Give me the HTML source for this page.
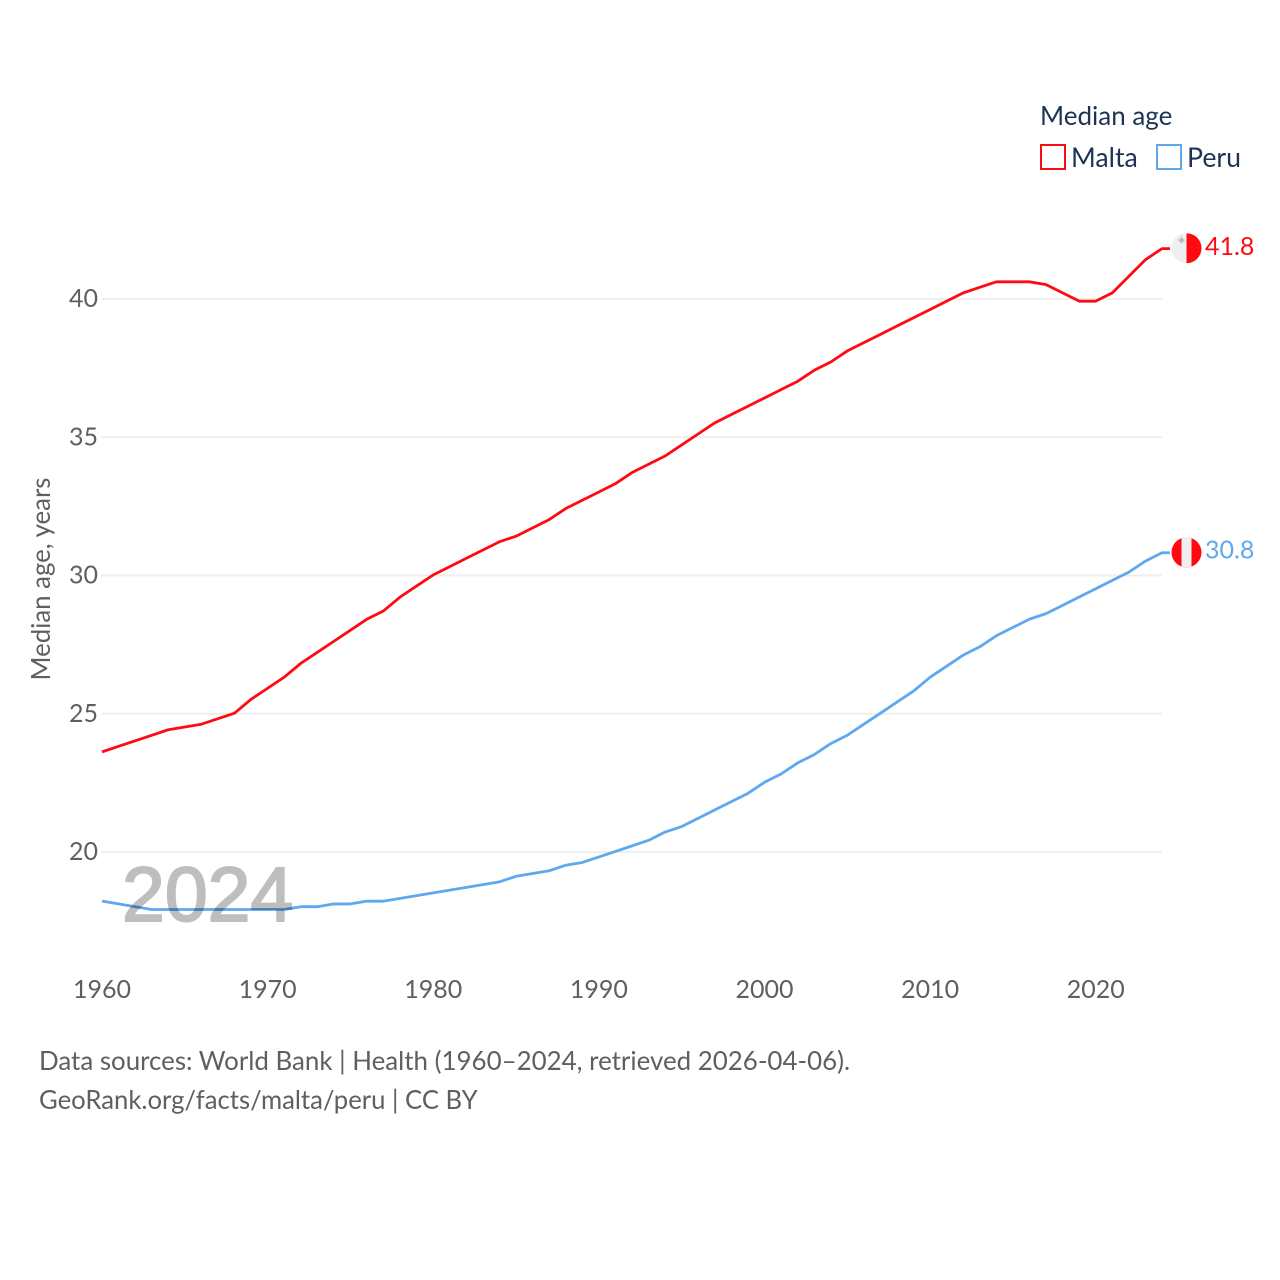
<!DOCTYPE html>
<html lang="en">
<head>
<meta charset="utf-8">
<title>Median age: Malta and Peru</title>
<style>
html,body{margin:0;padding:0;background:#fff;width:1280px;height:1280px;overflow:hidden}
svg{display:block}
text{font-family:"Lato","Carlito","Liberation Sans",sans-serif}
</style>
</head>
<body>
<svg id="chart" xmlns="http://www.w3.org/2000/svg" width="1280" height="1280" viewBox="0 0 1280 1280">
  <defs>
    <clipPath id="flag-clip-malta"><circle id="malta-clip-circle" r="15"></circle></clipPath>
    <clipPath id="flag-clip-peru"><circle id="peru-clip-circle" r="15"></circle></clipPath>
  </defs>
  <g id="grid"></g>
  <g id="y-ticks"></g>
  <g id="x-ticks"></g>
  <text transform="translate(50 579) rotate(-90)" text-anchor="middle" font-size="25.8" fill="#5f5f5f">Median age, years</text>
  <g id="series" transform="translate(0 -0.6)"></g>
  <text x="122" y="921" font-size="77" fill="#000" stroke="#000" stroke-width="2" opacity="0.25" style="font-family:'Liberation Sans',sans-serif;font-weight:400">2024</text>
  <g id="end-markers"></g>
  <text x="1040" y="125" font-size="26" fill="#1d3354">Median age</text>
  <g>
    <rect x="1041" y="145" width="24" height="24" fill="#fff" stroke="#ff0a12" stroke-width="2"></rect>
    <text x="1071" y="167" font-size="26.7" fill="#1d3354">Malta</text>
  </g>
  <g>
    <rect x="1157" y="145" width="24" height="24" fill="#fff" stroke="#5fa8ee" stroke-width="2"></rect>
    <text x="1187" y="167" font-size="26.7" fill="#1d3354">Peru</text>
  </g>
  <text x="39" y="1070" font-size="25.9" fill="#5f5f5f">Data sources: World Bank | Health (1960–2024, retrieved 2026-04-06).</text>
  <text x="39" y="1109" font-size="25.7" fill="#5f5f5f">GeoRank.org/facts/malta/peru | CC BY</text>
</svg>
<script>
const years = [1960,1961,1962,1963,1964,1965,1966,1967,1968,1969,1970,1971,1972,1973,1974,1975,1976,1977,1978,1979,1980,1981,1982,1983,1984,1985,1986,1987,1988,1989,1990,1991,1992,1993,1994,1995,1996,1997,1998,1999,2000,2001,2002,2003,2004,2005,2006,2007,2008,2009,2010,2011,2012,2013,2014,2015,2016,2017,2018,2019,2020,2021,2022,2023,2024];
const malta = [23.6,23.8,24.0,24.2,24.4,24.5,24.6,24.8,25.0,25.5,25.9,26.3,26.8,27.2,27.6,28.0,28.4,28.7,29.2,29.6,30.0,30.3,30.6,30.9,31.2,31.4,31.7,32.0,32.4,32.7,33.0,33.3,33.7,34.0,34.3,34.7,35.1,35.5,35.8,36.1,36.4,36.7,37.0,37.4,37.7,38.1,38.4,38.7,39.0,39.3,39.6,39.9,40.2,40.4,40.6,40.6,40.6,40.5,40.2,39.9,39.9,40.2,40.8,41.4,41.8];
const peru = [18.2,18.1,18.0,17.9,17.9,17.9,17.9,17.9,17.9,17.9,17.9,17.9,18.0,18.0,18.1,18.1,18.2,18.2,18.3,18.4,18.5,18.6,18.7,18.8,18.9,19.1,19.2,19.3,19.5,19.6,19.8,20.0,20.2,20.4,20.7,20.9,21.2,21.5,21.8,22.1,22.5,22.8,23.2,23.5,23.9,24.2,24.6,25.0,25.4,25.8,26.3,26.7,27.1,27.4,27.8,28.1,28.4,28.6,28.9,29.2,29.5,29.8,30.1,30.5,30.8];
const yTickValues = [20,25,30,35,40];
const xTickValues = [1960,1970,1980,1990,2000,2010,2020];

const NS = 'http://www.w3.org/2000/svg';
function x(year){ return 102 + (year - 1960) * (1162 - 102) / 64; }
function y(value){ return 852 - (value - 20) * (852 - 299) / 20; }
function make(tag, attrs, parent){
  const el = document.createElementNS(NS, tag);
  for (const k in attrs) el.setAttribute(k, attrs[k]);
  parent.appendChild(el);
  return el;
}

const grid = document.getElementById('grid');
const yTicks = document.getElementById('y-ticks');
yTickValues.forEach(function(v){
  const line = make('line', {x1:101, x2:1162, y1:y(v), y2:y(v), stroke:'#efefef', 'stroke-width':2}, grid);
  
  
  const t = make('text', {x:98, y:y(v) + 8, 'text-anchor':'end', 'font-size':25, fill:'#5f5f5f'}, yTicks);
  
  
  t.textContent = v;
});

const xTicks = document.getElementById('x-ticks');
xTickValues.forEach(function(v){
  const t = make('text', {x:x(v), y:998, 'text-anchor':'middle', 'font-size':25, fill:'#5f5f5f'}, xTicks);
  
  
  t.textContent = v;
});

const seriesGroup = document.getElementById('series');
function drawSeries(values, color, name){
  const pts = values.map(function(v, i){ return x(years[i]).toFixed(2) + ',' + y(v).toFixed(2); });
  const last = values[values.length - 1];
  pts.push((x(years[years.length - 1]) + 8).toFixed(2) + ',' + y(last).toFixed(2));
  const line = make('polyline', {points:pts.join(' '), fill:'none', stroke:color, 'stroke-width':2.8, 'stroke-linejoin':'round'}, seriesGroup);
  
  
}
drawSeries(malta, '#ff0a12', 'malta');
drawSeries(peru, '#5fa8ee', 'peru');

const markers = document.getElementById('end-markers');
const flagX = 1186.5;

const maltaLast = malta[malta.length - 1];
const maltaY = y(maltaLast) - 1;
const maltaClip = document.getElementById('malta-clip-circle');
maltaClip.setAttribute('cx', flagX);
maltaClip.setAttribute('cy', maltaY);
const maltaFlag = make('g', {'clip-path':'url(#flag-clip-malta)'}, markers);


make('rect', {x:flagX - 15, y:maltaY - 15, width:15, height:30, fill:'#efefef'}, maltaFlag);
make('rect', {x:flagX, y:maltaY - 15, width:15, height:30, fill:'#ff0a12'}, maltaFlag);
make('rect', {x:flagX - 8, y:maltaY - 9, width:6, height:2, fill:'#b5b5b5'}, maltaFlag);
make('rect', {x:flagX - 6, y:maltaY - 11, width:2, height:6, fill:'#b5b5b5'}, maltaFlag);
const maltaLabel = make('text', {x:1205, y:y(maltaLast) + 6, 'font-size':25, fill:'#ff0a12'}, markers);


maltaLabel.textContent = maltaLast.toFixed(1);

const peruLast = peru[peru.length - 1];
const peruY = y(peruLast) - 1;
const peruClip = document.getElementById('peru-clip-circle');
peruClip.setAttribute('cx', flagX);
peruClip.setAttribute('cy', peruY);
const peruFlag = make('g', {'clip-path':'url(#flag-clip-peru)'}, markers);


make('rect', {x:flagX - 15, y:peruY - 15, width:30, height:30, fill:'#ff0a12'}, peruFlag);
make('rect', {x:flagX - 5, y:peruY - 15, width:10, height:30, fill:'#efefef'}, peruFlag);
const peruLabel = make('text', {x:1205, y:y(peruLast) + 5, 'font-size':25, fill:'#5fa8ee'}, markers);


peruLabel.textContent = peruLast.toFixed(1);
</script>
</body>
</html>
